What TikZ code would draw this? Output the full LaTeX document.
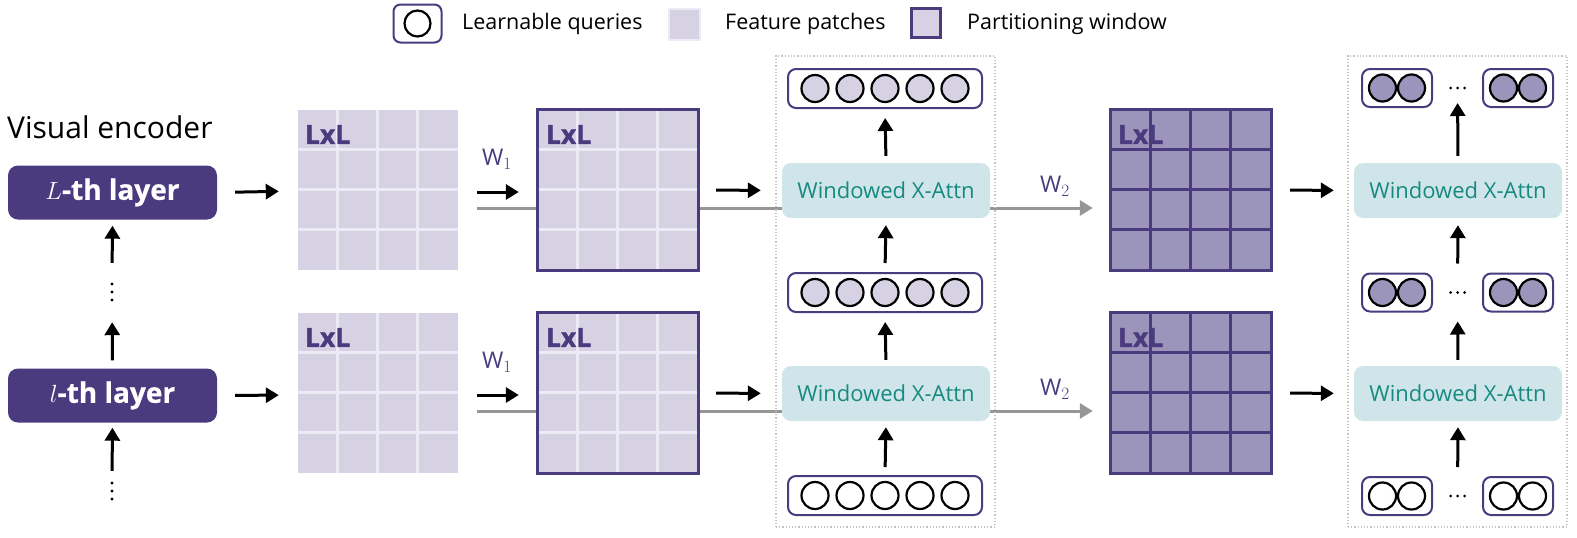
\documentclass[tikz,border=0pt]{standalone}
\usepackage{fontspec}
\setmainfont{Open Sans}
\newfontfamily\heavyfont{Open Sans}[BoldFeatures={FakeBold=1.2}]
\newfontfamily\demifont{Open Sans}[BoldFeatures={FakeBold=0.6}]
\usetikzlibrary{arrows.meta,calc,backgrounds}
\definecolor{dpurple}{RGB}{74,59,127}
\definecolor{lpatch}{RGB}{214,210,227}
\definecolor{lline}{RGB}{236,234,244}
\definecolor{dpatch}{RGB}{155,148,187}
\definecolor{tealbox}{RGB}{208,229,234}
\definecolor{tealtext}{RGB}{22,138,128}
\definecolor{grayarr}{RGB}{150,150,150}
\definecolor{dotgray}{RGB}{195,195,195}
\newcommand{\lightgrid}[2]{%
  \node[patchsq, fill=lpatch] (#1) at (#2) {};
  \foreach \k in {1,2,3}{
    \draw[lline, line width=3pt] ($(#1.north west)+(40*\k,0)$) -- ($(#1.south west)+(40*\k,0)$);
    \draw[lline, line width=3pt] ($(#1.north west)+(0,40*\k)$) -- ($(#1.north east)+(0,40*\k)$);
  }
}
\newcommand{\darkgrid}[2]{%
  \node[patchsq, fill=dpatch] (#1) at (#2) {};
  \node[lxl] at ($(#1.north west)+(7,15)$) {LxL};
  \foreach \k in {1,2,3}{
    \draw[dpurple, line width=3pt] ($(#1.north west)+(40*\k,0)$) -- ($(#1.south west)+(40*\k,0)$);
    \draw[dpurple, line width=3pt] ($(#1.north west)+(0,40*\k)$) -- ($(#1.north east)+(0,40*\k)$);
  }
  \draw[dpurple, line width=3pt] (#1.north west) rectangle (#1.south east);
}
\begin{document}
\begin{tikzpicture}[x=1pt,y=-1pt,
  patchsq/.style={minimum size=160pt, inner sep=0pt, draw=none},
  lxl/.style={anchor=north west, inner sep=0pt, text=dpurple, font=\heavyfont\fontsize{26.5}{28}\selectfont\bfseries},
  layerbox/.style={fill=dpurple, rounded corners=10pt, minimum width=209pt, minimum height=54pt, inner sep=0pt, text=white, font=\demifont\fontsize{28}{30}\selectfont\bfseries},
  attn/.style={fill=tealbox, rounded corners=9pt, minimum width=208pt, minimum height=55pt, inner sep=0pt, text=tealtext, font=\fontsize{22}{26}\selectfont},
  qbox/.style={draw=dpurple, line width=2pt, rounded corners=8pt, fill=white, minimum height=39pt, inner sep=0pt},
  qdot/.style={circle, draw=black, line width=2.2pt, minimum size=27pt, inner sep=0pt},
  arr/.style={line width=3pt, -{Triangle[length=13pt,width=15pt]}},
  grayl/.style={draw=grayarr, line width=3pt},
  grayarrow/.style={grayl, -{Triangle[length=13pt,width=15pt]}},
  container/.style={draw=dotgray, dotted, line width=1.2pt, inner sep=0pt},
  wlab/.style={text=dpurple, font=\fontsize{23}{26}\selectfont, inner sep=0pt},
  legtext/.style={anchor=west, inner sep=0pt, font=\fontsize{21.5}{25}\selectfont},
  vdot/.style={minimum width=4pt, minimum height=20pt, inner sep=0pt}
]
\useasboundingbox (0,0) rectangle (1577,538);

% ---------- legend ----------
\node[qbox, minimum width=48pt, minimum height=38pt, rounded corners=7pt] (legq) at (417.5,23.5) {};
\node[qdot, minimum size=26pt] (legqc) at (417.5,23.5) {};
\node[legtext] (legqt) at (462,24) {Learnable queries};
\node[minimum size=31pt, inner sep=0pt, fill=lpatch, draw=lline, line width=2pt] (legp) at (684,24) {};
\node[legtext] (legpt) at (725,24) {Feature patches};
\node[minimum size=29pt, inner sep=0pt, fill=lpatch, draw=dpurple, line width=3pt] (legw) at (926,23) {};
\node[legtext] (legwt) at (967,24) {Partitioning window};

% ---------- visual encoder ----------
\node[anchor=west, inner sep=0pt, font=\fontsize{30}{34}\selectfont] (ve) at (7,127) {Visual encoder};
\node[layerbox] (Lt) at (112.5,192.5) {$L$-th layer};
\node[layerbox] (Ll) at (112.5,395.5) {$l$-th layer};
\node[vdot] (vd1) at (112,292) {};
\node[vdot] (vd2) at (112,491) {};
\foreach \n in {vd1,vd2}{
  \fill ($(\n.center)+(0,-8)$) circle (1.7pt);
  \fill (\n.center) circle (1.7pt);
  \fill ($(\n.center)+(0,8)$) circle (1.7pt);
}
\draw[arr, shorten <=19pt, shorten >=6pt] (vd1.north) -- (Lt.south);
\draw[arr, shorten <=8pt, shorten >=20pt] (Ll.north) -- (vd1.south);
\draw[arr, shorten <=10pt, shorten >=5pt] (vd2.north) -- (Ll.south);

% ---------- grids ----------
\lightgrid{g1t}{378,190}
\node[lxl] at ($(g1t.north west)+(7,15)$) {LxL};
\lightgrid{g1b}{378,393}
\node[lxl] at ($(g1b.north west)+(7,15)$) {LxL};
\lightgrid{g2t}{618,190}
\draw[dpurple, line width=3pt] (g2t.north west) rectangle (g2t.south east);
\node[lxl] at ($(g2t.north west)+(8,15)$) {LxL};
\lightgrid{g2b}{618,393}
\draw[dpurple, line width=3pt] (g2b.north west) rectangle (g2b.south east);
\node[lxl] at ($(g2b.north west)+(8,15)$) {LxL};
\darkgrid{g3t}{1191,190}
\darkgrid{g3b}{1191,393}

% ---------- containers ----------
\node[container, minimum width=219pt, minimum height=471pt] (c3) at (885.5,291.5) {};
\node[container, minimum width=219pt, minimum height=471pt] (c4) at (1457.5,291.5) {};

% ---------- column 3 ----------
\node[attn] (a3t) at (886,190.5) {Windowed X-Attn};
\node[attn] (a3b) at (886,393.5) {Windowed X-Attn};
\foreach \nm/\yy/\fl in {q3t/88.5/lpatch, q3m/292.5/lpatch, q3b/495.5/white}{
  \node[qbox, minimum width=194pt] (\nm) at (885,\yy) {};
  \foreach \i in {1,...,5}{
    \node[qdot, fill=\fl] (\nm c\i) at ($(\nm.center)+(35*\i-105,0)$) {};
  }
}
\draw[arr, shorten <=7pt, shorten >=9pt] (a3t.north) -- (q3t.south);
\draw[arr, shorten <=9pt, shorten >=7pt] (q3m.north) -- (a3t.south);
\draw[arr, shorten <=6pt, shorten >=9pt] (a3b.north) -- (q3m.south);
\draw[arr, shorten <=8pt, shorten >=6pt] (q3b.north) -- (a3b.south);

% ---------- column 4 ----------
\node[attn] (a4t) at (1458,190.5) {Windowed X-Attn};
\node[attn] (a4b) at (1458,393.5) {Windowed X-Attn};
\foreach \nm/\yy/\fl in {p4t/88/dpatch, p4m/292.5/dpatch, p4b/496/white}{
  \node[qbox, minimum width=70pt, minimum height=38pt] (\nm L) at (1397,\yy) {};
  \node[qbox, minimum width=70pt, minimum height=38pt] (\nm R) at (1518,\yy) {};
  \node[qdot, fill=\fl] (\nm La) at ($(\nm L.center)+(-14.5,0)$) {};
  \node[qdot, fill=\fl] (\nm Lb) at ($(\nm L.center)+(14.5,0)$) {};
  \node[qdot, fill=\fl] (\nm Ra) at ($(\nm R.center)+(-14.5,0)$) {};
  \node[qdot, fill=\fl] (\nm Rb) at ($(\nm R.center)+(14.5,0)$) {};
  \node[inner sep=0pt, minimum width=20pt, minimum height=30pt] (\nm D) at (1457.5,\yy) {};
  \foreach \dx in {-7,0,7}{\fill ($(\nm D.center)+(\dx,0)$) circle (1.5pt);}
}
\draw[arr, shorten <=7pt, shorten >=15pt] (a4t.north) -- (p4tD.center);
\draw[arr, shorten <=29pt, shorten >=7pt] (p4mD.center) -- (a4t.south);
\draw[arr, shorten <=6pt, shorten >=29pt] (a4b.north) -- (p4mD.center);
\draw[arr, shorten <=29pt, shorten >=6pt] (p4bD.center) -- (a4b.south);

% ---------- horizontal connectors ----------
\begin{scope}[on background layer]
  \draw[grayl, shorten <=19pt] ([yshift=-18pt]g1t.east) -- ([yshift=-18pt]g2t.west);
  \draw[grayl, shorten <=19pt] ([yshift=-18pt]g1b.east) -- ([yshift=-18pt]g2b.west);
  \draw[grayarrow, shorten >=18pt] ([yshift=-18pt]g2t.east) -- ([yshift=-18pt]g3t.west);
  \draw[grayarrow, shorten >=18pt] ([yshift=-18pt]g2b.east) -- ([yshift=-18pt]g3b.west);
\end{scope}
\draw[arr, shorten <=18pt, shorten >=19pt] (Lt.east) -- ([yshift=-1pt]g1t.west);
\draw[arr, shorten <=18pt, shorten >=19pt] (Ll.east) -- ([yshift=-2pt]g1b.west);
\draw[arr, shorten <=19pt, shorten >=19pt] ([yshift=-2pt]g1t.east) -- ([yshift=-2pt]g2t.west);
\draw[arr, shorten <=19pt, shorten >=19pt] ([yshift=-2pt]g1b.east) -- ([yshift=-2pt]g2b.west);
\draw[arr, shorten <=18pt, shorten >=21pt] (g2t.east) -- (a3t.west);
\draw[arr, shorten <=18pt, shorten >=21pt] (g2b.east) -- (a3b.west);
\draw[arr, shorten <=19pt, shorten >=20pt] (g3t.east) -- (a4t.west);
\draw[arr, shorten <=19pt, shorten >=20pt] (g3b.east) -- (a4b.west);

\node[wlab] (w1t) at (497,159) {W$_1$};
\node[wlab] (w1b) at (497,362) {W$_1$};
\node[wlab] (w2t) at (1055,186) {W$_2$};
\node[wlab] (w2b) at (1055,389) {W$_2$};
\end{tikzpicture}
\end{document}
